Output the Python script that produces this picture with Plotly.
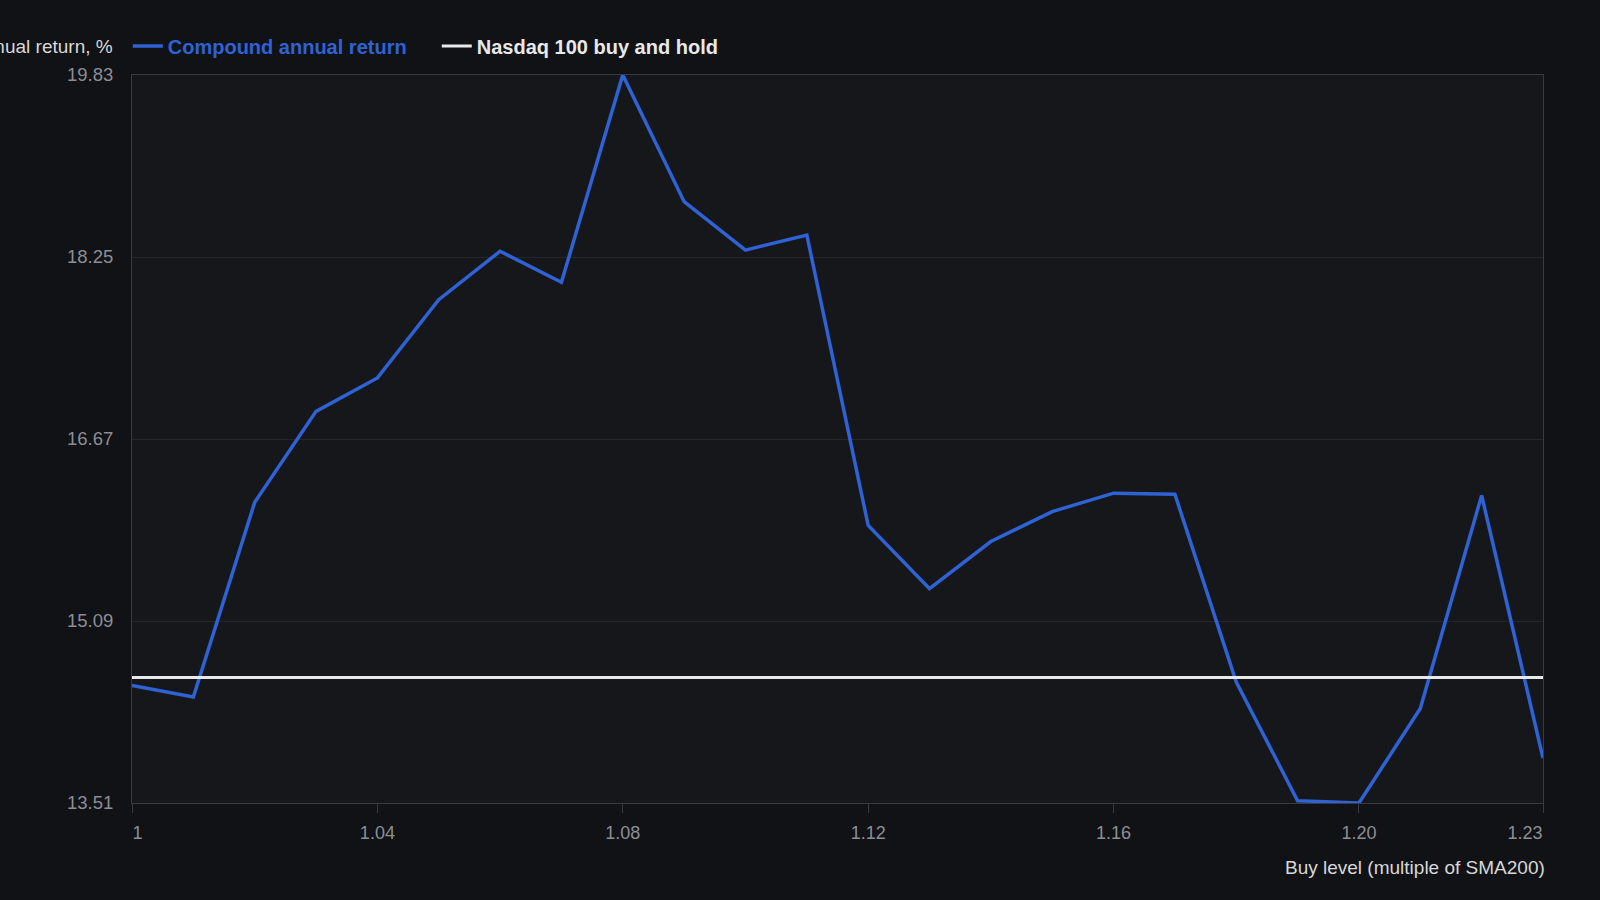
import plotly.graph_objects as go

# ---- data ----
buy_level = [1.00, 1.01, 1.02, 1.03, 1.04, 1.05, 1.06, 1.07, 1.08, 1.09, 1.10, 1.11,
             1.12, 1.13, 1.14, 1.15, 1.16, 1.17, 1.18, 1.19, 1.20, 1.21, 1.22, 1.23]
cagr = [14.53, 14.43, 16.12, 16.91, 17.20, 17.88, 18.30, 18.03, 19.83, 18.73, 18.31, 18.44,
        15.92, 15.37, 15.78, 16.04, 16.20, 16.19, 14.56, 13.53, 13.51, 14.33, 16.18, 13.90]
buy_hold = 14.60

y_ticks = [13.51, 15.09, 16.67, 18.25, 19.83]
x_ticks_mid = [1.04, 1.08, 1.12, 1.16, 1.20]
x_tick_mid_labels = ["1.04", "1.08", "1.12", "1.16", "1.20"]
x_tick_first, x_tick_first_label = [1.00], ["1"]
x_tick_last, x_tick_last_label = [1.23], ["1.23"]

BLUE = "#2f62d4"
WHITE = "#e9e9e9"
PAGE_BG = "#111216"
PLOT_BG = "#16171b"
GRID = "#26272c"
AXIS = "#3a3b40"
TICK_TXT = "#8c8e93"
TITLE_TXT = "#d8d8d8"
FONT = "Liberation Sans, Arial, sans-serif"

fig = go.Figure()
fig.add_trace(go.Scatter(
    x=buy_level, y=cagr, mode="lines",
    name="<span style='color:%s'><b>Compound annual return</b></span>" % BLUE,
    line=dict(color=BLUE, width=3.5), cliponaxis=False))
fig.add_trace(go.Scatter(
    x=[buy_level[0], buy_level[-1]], y=[buy_hold, buy_hold], mode="lines",
    name="<span style='color:%s'><b>Nasdaq 100 buy and hold</b></span>" % WHITE,
    line=dict(color=WHITE, width=3), cliponaxis=False))

xr = [buy_level[0], buy_level[-1]]
common_x = dict(range=xr, showgrid=False, zeroline=False,
                tickfont=dict(family=FONT, size=18, color=TICK_TXT))

fig.update_layout(
    width=1600, height=900,
    paper_bgcolor=PAGE_BG, plot_bgcolor=PLOT_BG,
    margin=dict(l=132, r=57, t=75, b=97),
    font=dict(family=FONT, color=TICK_TXT),
    showlegend=True,
    legend=dict(orientation="h", x=-0.003, xanchor="left", y=1.04, yanchor="middle",
                bgcolor="rgba(0,0,0,0)", font=dict(family=FONT, size=20, color=WHITE),
                itemwidth=30, tracegroupgap=0,
                entrywidth=264, entrywidthmode="pixels"),
    xaxis=dict(**common_x, tickvals=x_ticks_mid, ticktext=x_tick_mid_labels,
               ticks="outside", ticklen=9, tickcolor=AXIS, tickwidth=1,
               showline=True, linecolor=AXIS, linewidth=1, mirror=True,
               ticklabelstandoff=4),
    xaxis2=dict(**common_x, overlaying="x", matches="x", side="bottom", anchor="y",
                tickvals=x_tick_first, ticktext=x_tick_first_label,
                ticks="outside", ticklen=9, tickcolor=AXIS, tickwidth=1,
                ticklabelposition="outside right", showline=False,
                ticklabelstandoff=13),
    xaxis3=dict(**common_x, overlaying="x", matches="x", side="bottom", anchor="y",
                tickvals=x_tick_last, ticktext=x_tick_last_label,
                ticks="outside", ticklen=9, tickcolor=AXIS, tickwidth=1,
                ticklabelposition="outside left", showline=False,
                ticklabelstandoff=13),
    yaxis=dict(range=[y_ticks[0], y_ticks[-1]], tickvals=y_ticks,
               ticktext=["%.2f" % v for v in y_ticks],
               showgrid=True, gridcolor=GRID, gridwidth=1, zeroline=False,
               showline=True, linecolor=AXIS, linewidth=1, mirror=True,
               ticks="", ticklabelstandoff=14,
               tickfont=dict(family=FONT, size=18.5, color=TICK_TXT)),
)

# invisible traces to activate the overlay axes
fig.add_trace(go.Scatter(x=xr, y=[None, None], xaxis="x2", showlegend=False, hoverinfo="skip"))
fig.add_trace(go.Scatter(x=xr, y=[None, None], xaxis="x3", showlegend=False, hoverinfo="skip"))

fig.add_annotation(text="Compound annual return, %", xref="paper", yref="paper",
                   x=-0.0135, y=1.0, xanchor="right", yanchor="middle", yshift=29, xshift=2,
                   showarrow=False, font=dict(family=FONT, size=19, color=TITLE_TXT))
fig.add_annotation(text="Buy level (multiple of SMA200)", xref="paper", yref="paper",
                   x=1.0, y=0, xanchor="right", yanchor="top", yshift=-52, xshift=4,
                   showarrow=False, font=dict(family=FONT, size=19, color=TITLE_TXT))

fig.write_html("out.html",
               config={"displayModeBar": False},
               post_script="document.body.style.margin='0';document.body.style.background='%s';" % PAGE_BG)
